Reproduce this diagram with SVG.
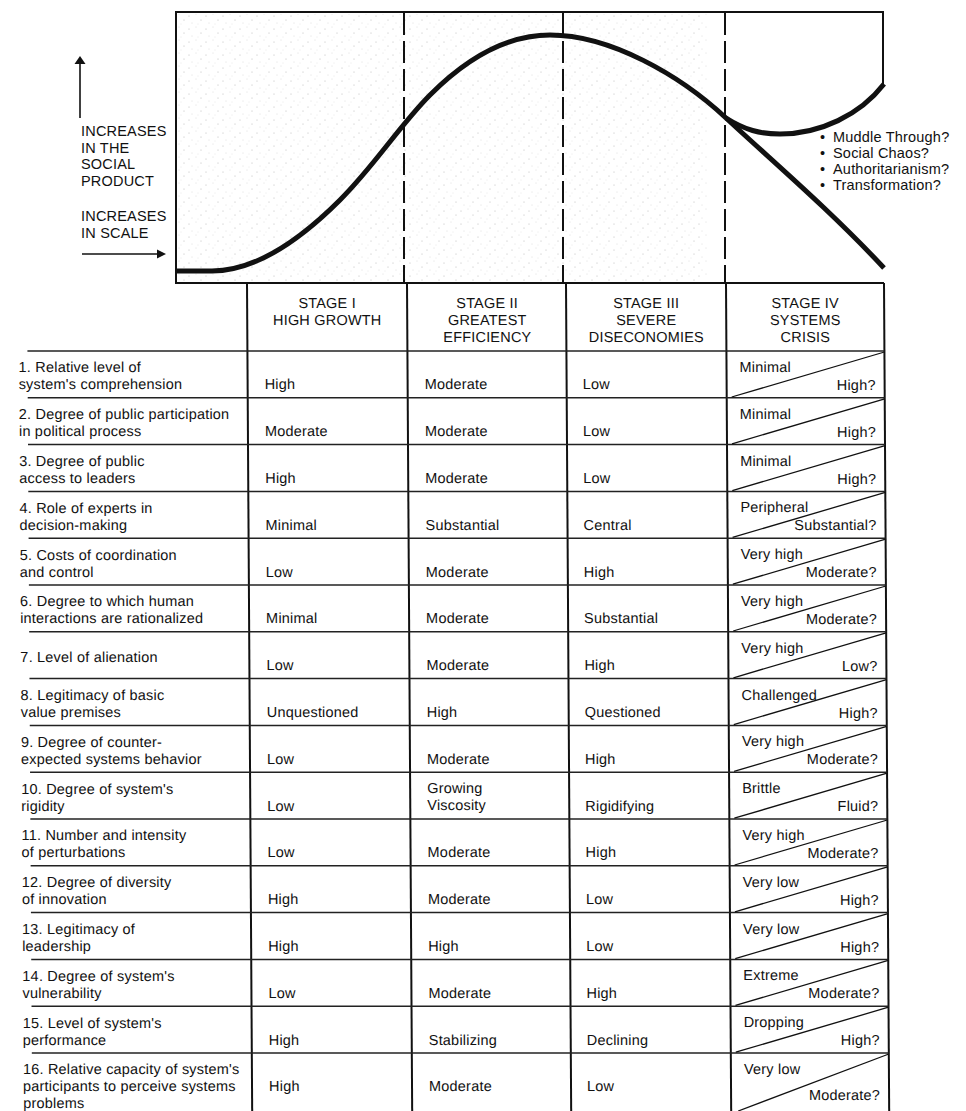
<svg xmlns="http://www.w3.org/2000/svg" width="966" height="1111" viewBox="0 0 966 1111">
<style>
.t{font-family:"Liberation Sans",Arial,sans-serif;font-size:14.5px;fill:#111;letter-spacing:0.2px}
.c{text-anchor:middle}
.e{text-anchor:end}
.box{fill:none;stroke:#111;stroke-width:2}
.dash{stroke:#111;stroke-width:2;stroke-dasharray:22 6}
.curve{fill:none;stroke:#111;stroke-width:5;stroke-linejoin:round}
.col{stroke:#111;stroke-width:2}
.row{stroke:#222;stroke-width:1.5}
.diag{stroke:#111;stroke-width:1.3}
.ax{stroke:#111;stroke-width:1.6}
</style>
<defs>
<pattern id="dots" width="17" height="13" patternUnits="userSpaceOnUse">
<circle cx="2" cy="3" r="0.5" fill="#999"/>
<circle cx="9" cy="1" r="0.45" fill="#aaa"/>
<circle cx="14" cy="7" r="0.5" fill="#999"/>
<circle cx="5" cy="10" r="0.45" fill="#aaa"/>
<circle cx="11" cy="11" r="0.4" fill="#bbb"/>
</pattern>
</defs>
<rect width="966" height="1111" fill="#fff"/>

<g id="chart">
<rect x="177" y="14" width="530" height="268" fill="url(#dots)" opacity="0.8"/>
<path class="box" d="M883,85 V12 H176 V283 H884"/>
<line class="dash" x1="404" y1="13" x2="404" y2="283"/>
<line class="dash" x1="563" y1="13" x2="563" y2="283"/>
<line class="dash" x1="725" y1="13" x2="725" y2="283"/>
<path class="curve" d="M176,271 L212,271 C255,271 300,240 340,200 C375,165 400,125 430,95 C465,60 505,35 550,35 C610,35 680,75 726,118 C770,159 830,210 884,268"/>
<path class="curve" d="M726,118 C745,130 760,134 780,134 C820,134 860,115 884,84"/>
</g>

<g id="axis">
<line class="ax" x1="80" y1="118" x2="80" y2="62"/>
<polygon points="80,56 74.5,64 85.5,64" fill="#111"/>
<text class="t" x="81" y="136">INCREASES</text>
<text class="t" x="81" y="153">IN THE</text>
<text class="t" x="81" y="169">SOCIAL</text>
<text class="t" x="81" y="186">PRODUCT</text>
<text class="t" x="81" y="221">INCREASES</text>
<text class="t" x="81" y="238">IN SCALE</text>
<line class="ax" x1="82" y1="254" x2="158" y2="254"/>
<polygon points="166,254 157,249.5 157,258.5" fill="#111"/>
</g>

<g id="outcomes">
<text class="t" y="142"><tspan x="820">•</tspan><tspan x="833">Muddle Through?</tspan></text>
<text class="t" y="158"><tspan x="820">•</tspan><tspan x="833">Social Chaos?</tspan></text>
<text class="t" y="174"><tspan x="820">•</tspan><tspan x="833">Authoritarianism?</tspan></text>
<text class="t" y="190"><tspan x="820">•</tspan><tspan x="833">Transformation?</tspan></text>
</g>

<g id="table" transform="matrix(1 0 0.00625 1 -1.77 0)">
<g id="grid">
<line class="col" x1="247" y1="283" x2="247" y2="1111"/>
<line class="col" x1="407" y1="283" x2="407" y2="1111"/>
<line class="col" x1="566" y1="283" x2="566" y2="1111"/>
<line class="col" x1="726" y1="283" x2="726" y2="1111"/>
<line class="col" x1="884" y1="283" x2="884" y2="1111"/>
<line class="row" x1="27" y1="351" x2="884" y2="351"/>
<line class="row" x1="27" y1="397.8" x2="884" y2="397.8"/>
<line class="row" x1="27" y1="444.6" x2="884" y2="444.6"/>
<line class="row" x1="27" y1="491.4" x2="884" y2="491.4"/>
<line class="row" x1="27" y1="538.2" x2="884" y2="538.2"/>
<line class="row" x1="27" y1="585" x2="884" y2="585"/>
<line class="row" x1="27" y1="631.8" x2="884" y2="631.8"/>
<line class="row" x1="27" y1="678.6" x2="884" y2="678.6"/>
<line class="row" x1="27" y1="725.4" x2="884" y2="725.4"/>
<line class="row" x1="27" y1="772.2" x2="884" y2="772.2"/>
<line class="row" x1="27" y1="819" x2="884" y2="819"/>
<line class="row" x1="27" y1="865.8" x2="884" y2="865.8"/>
<line class="row" x1="27" y1="912.6" x2="884" y2="912.6"/>
<line class="row" x1="27" y1="959.4" x2="884" y2="959.4"/>
<line class="row" x1="27" y1="1006.2" x2="884" y2="1006.2"/>
<line class="row" x1="27" y1="1053" x2="884" y2="1053"/>
<line class="diag" x1="731" y1="397" x2="884" y2="352"/>
<line class="diag" x1="731" y1="443.8" x2="884" y2="398.8"/>
<line class="diag" x1="731" y1="490.6" x2="884" y2="445.6"/>
<line class="diag" x1="731" y1="537.4" x2="884" y2="492.4"/>
<line class="diag" x1="731" y1="584.2" x2="884" y2="539.2"/>
<line class="diag" x1="731" y1="631" x2="884" y2="586"/>
<line class="diag" x1="731" y1="677.8" x2="884" y2="632.8"/>
<line class="diag" x1="731" y1="724.6" x2="884" y2="679.6"/>
<line class="diag" x1="731" y1="771.4" x2="884" y2="726.4"/>
<line class="diag" x1="731" y1="818.2" x2="884" y2="773.2"/>
<line class="diag" x1="731" y1="865" x2="884" y2="820"/>
<line class="diag" x1="731" y1="911.8" x2="884" y2="866.8"/>
<line class="diag" x1="731" y1="958.6" x2="884" y2="913.6"/>
<line class="diag" x1="731" y1="1005.4" x2="884" y2="960.4"/>
<line class="diag" x1="731" y1="1052.2" x2="884" y2="1007.2"/>
<line class="diag" x1="733" y1="1111" x2="884" y2="1054"/>
</g>

<g id="header">
<text class="t c" x="327" y="308">STAGE I</text>
<text class="t c" x="327" y="325">HIGH GROWTH</text>
<text class="t c" x="487" y="308">STAGE II</text>
<text class="t c" x="487" y="325">GREATEST</text>
<text class="t c" x="487" y="342">EFFICIENCY</text>
<text class="t c" x="646" y="308">STAGE III</text>
<text class="t c" x="646" y="325">SEVERE</text>
<text class="t c" x="646" y="342">DISECONOMIES</text>
<text class="t c" x="805" y="308">STAGE IV</text>
<text class="t c" x="805" y="325">SYSTEMS</text>
<text class="t c" x="805" y="342">CRISIS</text>
</g>

<g id="row1">
<text class="t" x="18" y="372.5">1. Relative level of</text>
<text class="t" x="18" y="389.5">system's comprehension</text>
<text class="t" x="264" y="389.5">High</text>
<text class="t" x="424" y="389.5">Moderate</text>
<text class="t" x="582" y="389.5">Low</text>
<text class="t" x="739" y="372">Minimal</text>
<text class="t e" x="875" y="390">High?</text>
</g>
<g id="row2">
<text class="t" x="18" y="419.3">2. Degree of public participation</text>
<text class="t" x="18" y="436.3">in political process</text>
<text class="t" x="264" y="436.3">Moderate</text>
<text class="t" x="424" y="436.3">Moderate</text>
<text class="t" x="582" y="436.3">Low</text>
<text class="t" x="739" y="418.8">Minimal</text>
<text class="t e" x="875" y="436.8">High?</text>
</g>
<g id="row3">
<text class="t" x="18" y="466.1">3. Degree of public</text>
<text class="t" x="18" y="483.1">access to leaders</text>
<text class="t" x="264" y="483.1">High</text>
<text class="t" x="424" y="483.1">Moderate</text>
<text class="t" x="582" y="483.1">Low</text>
<text class="t" x="739" y="465.6">Minimal</text>
<text class="t e" x="875" y="483.6">High?</text>
</g>
<g id="row4">
<text class="t" x="18" y="512.9">4. Role of experts in</text>
<text class="t" x="18" y="529.9">decision-making</text>
<text class="t" x="264" y="529.9">Minimal</text>
<text class="t" x="424" y="529.9">Substantial</text>
<text class="t" x="582" y="529.9">Central</text>
<text class="t" x="739" y="512.4">Peripheral</text>
<text class="t e" x="875" y="530.4">Substantial?</text>
</g>
<g id="row5">
<text class="t" x="18" y="559.7">5. Costs of coordination</text>
<text class="t" x="18" y="576.7">and control</text>
<text class="t" x="264" y="576.7">Low</text>
<text class="t" x="424" y="576.7">Moderate</text>
<text class="t" x="582" y="576.7">High</text>
<text class="t" x="739" y="559.2">Very high</text>
<text class="t e" x="875" y="577.2">Moderate?</text>
</g>
<g id="row6">
<text class="t" x="18" y="606.5">6. Degree to which human</text>
<text class="t" x="18" y="623.5">interactions are rationalized</text>
<text class="t" x="264" y="623.5">Minimal</text>
<text class="t" x="424" y="623.5">Moderate</text>
<text class="t" x="582" y="623.5">Substantial</text>
<text class="t" x="739" y="606">Very high</text>
<text class="t e" x="875" y="624">Moderate?</text>
</g>
<g id="row7">
<text class="t" x="18" y="662">7. Level of alienation</text>
<text class="t" x="264" y="670.3">Low</text>
<text class="t" x="424" y="670.3">Moderate</text>
<text class="t" x="582" y="670.3">High</text>
<text class="t" x="739" y="652.8">Very high</text>
<text class="t e" x="875" y="670.8">Low?</text>
</g>
<g id="row8">
<text class="t" x="18" y="700.1">8. Legitimacy of basic</text>
<text class="t" x="18" y="717.1">value premises</text>
<text class="t" x="264" y="717.1">Unquestioned</text>
<text class="t" x="424" y="717.1">High</text>
<text class="t" x="582" y="717.1">Questioned</text>
<text class="t" x="739" y="699.6">Challenged</text>
<text class="t e" x="875" y="717.6">High?</text>
</g>
<g id="row9">
<text class="t" x="18" y="746.9">9. Degree of counter-</text>
<text class="t" x="18" y="763.9">expected systems behavior</text>
<text class="t" x="264" y="763.9">Low</text>
<text class="t" x="424" y="763.9">Moderate</text>
<text class="t" x="582" y="763.9">High</text>
<text class="t" x="739" y="746.4">Very high</text>
<text class="t e" x="875" y="764.4">Moderate?</text>
</g>
<g id="row10">
<text class="t" x="18" y="793.7">10. Degree of system's</text>
<text class="t" x="18" y="810.7">rigidity</text>
<text class="t" x="264" y="810.7">Low</text>
<text class="t" x="424" y="792.7">Growing</text>
<text class="t" x="424" y="809.7">Viscosity</text>
<text class="t" x="582" y="810.7">Rigidifying</text>
<text class="t" x="739" y="793.2">Brittle</text>
<text class="t e" x="875" y="811.2">Fluid?</text>
</g>
<g id="row11">
<text class="t" x="18" y="840.5">11. Number and intensity</text>
<text class="t" x="18" y="857.5">of perturbations</text>
<text class="t" x="264" y="857.5">Low</text>
<text class="t" x="424" y="857.5">Moderate</text>
<text class="t" x="582" y="857.5">High</text>
<text class="t" x="739" y="840">Very high</text>
<text class="t e" x="875" y="858">Moderate?</text>
</g>
<g id="row12">
<text class="t" x="18" y="887.3">12. Degree of diversity</text>
<text class="t" x="18" y="904.3">of innovation</text>
<text class="t" x="264" y="904.3">High</text>
<text class="t" x="424" y="904.3">Moderate</text>
<text class="t" x="582" y="904.3">Low</text>
<text class="t" x="739" y="886.8">Very low</text>
<text class="t e" x="875" y="904.8">High?</text>
</g>
<g id="row13">
<text class="t" x="18" y="934.1">13. Legitimacy of</text>
<text class="t" x="18" y="951.1">leadership</text>
<text class="t" x="264" y="951.1">High</text>
<text class="t" x="424" y="951.1">High</text>
<text class="t" x="582" y="951.1">Low</text>
<text class="t" x="739" y="933.6">Very low</text>
<text class="t e" x="875" y="951.6">High?</text>
</g>
<g id="row14">
<text class="t" x="18" y="980.9">14. Degree of system's</text>
<text class="t" x="18" y="997.9">vulnerability</text>
<text class="t" x="264" y="997.9">Low</text>
<text class="t" x="424" y="997.9">Moderate</text>
<text class="t" x="582" y="997.9">High</text>
<text class="t" x="739" y="980.4">Extreme</text>
<text class="t e" x="875" y="998.4">Moderate?</text>
</g>
<g id="row15">
<text class="t" x="18" y="1027.7">15. Level of system's</text>
<text class="t" x="18" y="1044.7">performance</text>
<text class="t" x="264" y="1044.7">High</text>
<text class="t" x="424" y="1044.7">Stabilizing</text>
<text class="t" x="582" y="1044.7">Declining</text>
<text class="t" x="739" y="1027.2">Dropping</text>
<text class="t e" x="875" y="1045.2">High?</text>
</g>
<g id="row16">
<text class="t" x="18" y="1074.5">16. Relative capacity of system's</text>
<text class="t" x="18" y="1091.5">participants to perceive systems</text>
<text class="t" x="18" y="1108">problems</text>
<text class="t" x="264" y="1091">High</text>
<text class="t" x="424" y="1091">Moderate</text>
<text class="t" x="582" y="1091">Low</text>
<text class="t" x="739" y="1074">Very low</text>
<text class="t e" x="875" y="1100">Moderate?</text>
</g>
</g>
</svg>
